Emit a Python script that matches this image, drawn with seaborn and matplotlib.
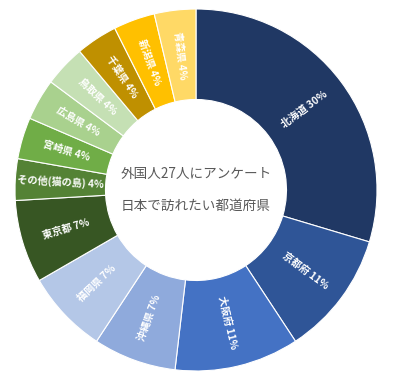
import numpy as np
import matplotlib
matplotlib.use("Agg")
import matplotlib.pyplot as plt
import seaborn as sns

labels = ["北海道", "京都府", "大阪府", "沖縄県", "福岡県", "東京都",
          "その他(猫の島)", "宮崎県", "広島県", "鳥取県", "千葉県", "新潟県", "青森県"]
counts = [8, 3, 3, 2, 2, 2, 1, 1, 1, 1, 1, 1, 1]
pct_labels = ["30%", "11%", "11%", "7%", "7%", "7%", "4%", "4%", "4%", "4%", "4%", "4%", "4%"]
colors = ["#203864", "#2F5597", "#4472C4", "#8FAADC", "#B4C7E7", "#375623",
          "#548235", "#70AD47", "#A9D18E", "#C5E0B4", "#BF9000", "#FFC000", "#FFD966"]
center_lines = ["外国人27人にアンケート", "日本で訪れたい都道府県"]

sns.set_theme(style="white")
plt.rcParams['font.family'] = ['Noto Sans CJK JP', 'DejaVu Sans']

fig = plt.figure(figsize=(4.0, 3.74), dpi=100)
cx, cy, R = 196, 190, 181
ax = fig.add_axes([(cx - R) / 400, (374 - cy - R) / 374, 2 * R / 400, 2 * R / 374])
ax.set_aspect('equal')

wedges, _ = ax.pie(counts, colors=colors, startangle=90, counterclock=False,
                   radius=1.0, wedgeprops=dict(width=0.5, edgecolor='white', linewidth=0.8))
ax.set_xlim(-1, 1)
ax.set_ylim(-1, 1)
ax.axis('off')

for w, lab, p in zip(wedges, labels, pct_labels):
    ang = (w.theta1 + w.theta2) / 2.0
    r = 0.75
    x = r * np.cos(np.radians(ang))
    y = r * np.sin(np.radians(ang))
    a = ((ang + 180) % 360) - 180
    rot = a if -90 <= a <= 90 else a - 180
    if rot < -90:
        rot += 360
    ax.text(x, y, f"{lab} {p}", rotation=rot, rotation_mode='anchor',
            ha='center', va='center', color='white', fontsize=7.3, fontweight='bold')

ax.text(0, 0.09, center_lines[0], ha='center', va='center', fontsize=9.8, color='#595959')
ax.text(0, -0.09, center_lines[1], ha='center', va='center', fontsize=9.8, color='#595959')

fig.savefig("out.png", dpi=100)
